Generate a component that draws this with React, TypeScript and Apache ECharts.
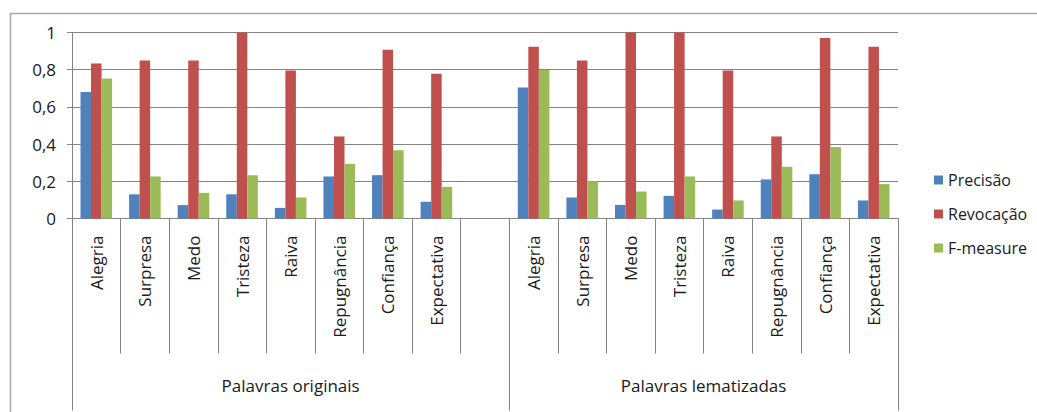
import React, { useEffect, useRef } from "react";
import * as echarts from "echarts";

// Emotion categories, repeated for each word-processing group
const emotions = [
  "Alegria",
  "Surpresa",
  "Medo",
  "Tristeza",
  "Raiva",
  "Repugnância",
  "Confiança",
  "Expectativa",
];
const groupNames = ["Palavras originais", "Palavras lematizadas"];
const seriesNames = ["Precisão", "Revocação", "F-measure"];
const yTicks = [0, 0.2, 0.4, 0.6, 0.8, 1];

// Scores for the original words
const precisaoOrig = [0.68, 0.13, 0.072, 0.13, 0.057, 0.226, 0.233, 0.09];
const revocacaoOrig = [0.833, 0.849, 0.849, 1.0, 0.796, 0.441, 0.907, 0.778];
const fmeasureOrig = [0.753, 0.226, 0.138, 0.233, 0.113, 0.294, 0.367, 0.17];

// Scores for the lemmatized words
const precisaoLem = [0.704, 0.113, 0.073, 0.122, 0.048, 0.21, 0.238, 0.097];
const revocacaoLem = [0.923, 0.849, 1.0, 1.0, 0.796, 0.441, 0.971, 0.923];
const fmeasureLem = [0.799, 0.201, 0.145, 0.226, 0.097, 0.278, 0.384, 0.185];

const colors = ["#4F81BD", "#C0504D", "#9BBB59"];
const FONT = "Open Sans";
const TEXT_COLOR = "#1a1a1a";
const GRID_COLOR = "#838383";

// One empty slot separates the two groups on the category axis
const categories = [...emotions, "", ...emotions];
const firstGroupSize = emotions.length + 1;
const joinGroups = (a: number[], b: number[]) => [...a, null, ...b];
const seriesData = [
  joinGroups(precisaoOrig, precisaoLem),
  joinGroups(revocacaoOrig, revocacaoLem),
  joinGroups(fmeasureOrig, fmeasureLem),
];

export default function App() {
  const ref = useRef<HTMLDivElement>(null);

  useEffect(() => {
    if (!ref.current) return;
    const chart = echarts.init(ref.current, null, { renderer: "svg" });
    const total = categories.length;
    chart.setOption({
      animation: false,
      backgroundColor: "#ffffff",
      color: colors,
      graphic: [
        {
          type: "rect",
          left: 8,
          top: 11,
          shape: { width: 1200, height: 600 },
          style: { fill: "none", stroke: "#a6a6a6", lineWidth: 1.5 },
          silent: true,
          z: -1,
        },
      ],
      grid: { left: 72, right: 139, top: 32.5, bottom: 193.5 },
      legend: {
        orient: "vertical",
        left: 929,
        top: 167,
        itemWidth: 9,
        itemHeight: 9,
        itemGap: 18,
        icon: "rect",
        data: seriesNames,
        textStyle: { fontFamily: FONT, fontSize: 16, color: TEXT_COLOR },
      },
      xAxis: [
        {
          type: "category",
          data: categories,
          axisLine: { show: true, lineStyle: { color: GRID_COLOR } },
          axisTick: {
            show: true,
            alignWithLabel: false,
            length: 135,
            lineStyle: { color: GRID_COLOR },
          },
          axisLabel: {
            rotate: 90,
            margin: 17,
            interval: 0,
            fontFamily: FONT,
            fontSize: 17,
            color: TEXT_COLOR,
          },
        },
        {
          type: "value",
          min: 0,
          max: total,
          position: "bottom",
          axisLine: { show: false },
          splitLine: { show: false },
          axisTick: {
            show: true,
            length: 192,
            customValues: [0, firstGroupSize, total],
            lineStyle: { color: GRID_COLOR },
          },
          axisLabel: {
            customValues: [firstGroupSize / 2, (firstGroupSize + total) / 2],
            formatter: (v: number) =>
              v < firstGroupSize ? groupNames[0] : groupNames[1],
            margin: 158,
            fontFamily: FONT,
            fontSize: 17,
            color: TEXT_COLOR,
          },
        },
      ],
      yAxis: {
        type: "value",
        min: yTicks[0],
        max: yTicks[yTicks.length - 1],
        interval: 0.2,
        axisLine: { show: true, lineStyle: { color: GRID_COLOR } },
        axisTick: { show: true, length: 5, lineStyle: { color: GRID_COLOR } },
        splitLine: { show: true, lineStyle: { color: GRID_COLOR, width: 1 } },
        axisLabel: {
          margin: 16,
          fontFamily: FONT,
          fontSize: 17,
          color: TEXT_COLOR,
          formatter: (v: number) => String(Math.round(v * 10) / 10).replace(".", ","),
        },
      },
      series: seriesNames.map((name, i) => ({
        name,
        type: "bar",
        xAxisIndex: 0,
        data: seriesData[i],
        barGap: "0%",
        barCategoryGap: "35%",
        itemStyle: { color: colors[i] },
      })),
    });
    return () => chart.dispose();
  }, []);

  return (
    <div
      ref={ref}
      style={{ position: "fixed", left: 0, top: 0, width: 1037, height: 412 }}
    />
  );
}
